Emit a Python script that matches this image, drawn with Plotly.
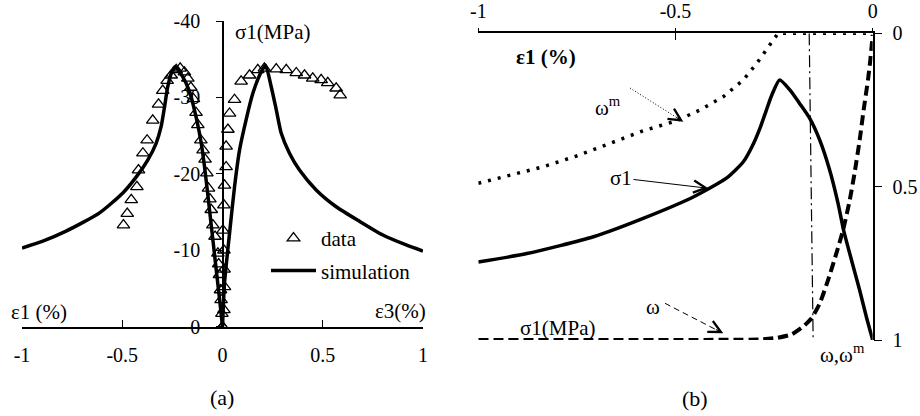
import plotly.graph_objects as go

W, H = 920, 416
FONT = "Liberation Serif, Times New Roman, Times, serif"

# ---------------- Panel (a) data ----------------
# simulation: sigma1 vs eps1 (left branch) and sigma1 vs eps3 (right branch)
sim_e1 = [-1.0, -0.896, -0.780, -0.613, -0.497, -0.430, -0.373, -0.331, -0.306,
          -0.289, -0.273, -0.252, -0.236, -0.198, -0.165, -0.128, -0.106, -0.090,
          -0.072, -0.055, -0.040, -0.025, -0.010, 0.0]
sim_s1 = [-10.3, -11.2, -12.5, -14.9, -17.5, -19.6, -21.8, -24.0, -26.2,
          -28.8, -31.4, -33.4, -34.0, -32.7, -30.8, -27.0, -24.0, -21.0,
          -17.0, -13.0, -9.5, -6.0, -2.5, 0.0]
sim_e3 = [0.0, 0.010, 0.035, 0.060, 0.085, 0.118, 0.151, 0.185, 0.214, 0.243,
          0.268, 0.293, 0.334, 0.384, 0.467, 0.567, 0.683, 0.800, 0.916, 1.0]
sim_s3 = [0.0, -5.7, -12.2, -18.3, -23.1, -27.1, -30.5, -32.9, -34.2, -31.4,
          -28.4, -25.3, -22.7, -20.5, -17.9, -15.7, -13.8, -12.0, -10.7, -9.9]

# experimental data
data_e1 = [-0.494, -0.475, -0.455, -0.427, -0.419, -0.397, -0.376, -0.348, -0.319,
           -0.298, -0.276, -0.256, -0.231, -0.211, -0.190, -0.173, -0.158, -0.145,
           -0.132, -0.123, -0.108, -0.097, -0.087, -0.078, -0.070, -0.063, -0.056,
           -0.048, -0.037, -0.023, -0.019, -0.015, -0.010, -0.007, -0.003, 0.0]
data_s1 = [-13.3, -14.8, -16.6, -18.3, -20.5, -22.7, -24.4, -27.0, -29.1,
           -30.9, -32.2, -32.9, -33.6, -33.8, -33.3, -32.5, -31.3, -29.8,
           -28.0, -26.4, -24.4, -23.1, -21.9, -20.1, -18.1, -16.7, -15.3,
           -13.3, -11.8, -9.6, -8.2, -6.8, -4.8, -3.5, -1.7, 0.0]
data_e3 = [0.0, 0.007, 0.010, 0.008, 0.007, 0.002, 0.007, 0.010, 0.018, 0.018,
           0.027, 0.035, 0.060, 0.093, 0.135, 0.176, 0.209, 0.268, 0.318, 0.368,
           0.409, 0.450, 0.492, 0.525, 0.567, 0.587]
data_s3 = [0.0, -2.2, -5.2, -7.5, -10.0, -12.6, -15.9, -18.5, -20.9, -23.6,
           -25.8, -27.9, -29.7, -32.1, -32.9, -33.6, -33.8, -33.7, -33.6, -33.2,
           -32.9, -32.5, -32.3, -31.9, -31.2, -30.3]

a_xticks = [-1, -0.5, 0, 0.5, 1]
a_xlabels = ["-1", "-0.5", "0", "0.5", "1"]
a_yticks = [0, -10, -20, -30, -40]
a_ylabels = ["0", "-10", "-20", "-30", "-40"]

# ---------------- Panel (b) data ----------------
b_e1 = [-1.0, -0.877, -0.708, -0.582, -0.455, -0.370, -0.328, -0.303, -0.285,
        -0.270, -0.256, -0.236, -0.210, -0.185, -0.160, -0.134, -0.109, -0.088,
        -0.074, -0.054, -0.033, -0.016, 0.0]
b_s1 = [-10.2, -11.3, -13.5, -15.9, -18.7, -21.2, -23.3, -25.6, -27.8,
        -30.0, -32.0, -34.0, -32.7, -30.9, -29.0, -26.1, -22.2, -17.9,
        -14.4, -10.5, -6.5, -3.0, 0.0]
wm_e1 = [-1.0, -0.920, -0.835, -0.751, -0.666, -0.582, -0.497, -0.438, -0.379,
         -0.328, -0.294, -0.269, -0.248, -0.240, -0.120, 0.0]
wm = [0.489, 0.464, 0.435, 0.400, 0.359, 0.318, 0.285, 0.250, 0.207,
      0.152, 0.098, 0.054, 0.013, 0.0, 0.0, 0.0]
w_e1 = [-1.0, -0.286, -0.243, -0.206, -0.177, -0.155, -0.134, -0.113, -0.092,
        -0.075, -0.058, -0.046, -0.033, -0.023, -0.012, -0.006, -0.003, 0.0]
w = [1.0, 0.998, 0.993, 0.982, 0.957, 0.929, 0.880, 0.804, 0.717,
     0.641, 0.543, 0.456, 0.348, 0.250, 0.152, 0.087, 0.045, 0.005]
vline_e1 = [-0.161, -0.151]
vline_w = [0.0, 1.0]

b_xticks = [-1, -0.5, 0]
b_xlabels = ["-1", "-0.5", "0"]
b_yticks = [0, 0.5, 1]
b_ylabels = ["0", "0.5", "1"]


def X(px):
    return px / W


def Y(py):
    return 1 - py / H


fig = go.Figure()

tri = dict(symbol="triangle-up-open", size=11, color="black",
           line=dict(width=1.3, color="black"))
# panel (a)
fig.add_trace(go.Scatter(x=data_e1, y=data_s1, mode="markers", name="data",
                         marker=tri, xaxis="x", yaxis="y", legendgroup="d",
                         showlegend=True))
fig.add_trace(go.Scatter(x=data_e3, y=data_s3, mode="markers", name="data",
                         marker=tri, xaxis="x", yaxis="y", showlegend=False))
fig.add_trace(go.Scatter(x=sim_e1, y=sim_s1, mode="lines", name="simulation",
                         line=dict(color="black", width=3.5, shape="spline", smoothing=0.6),
                         xaxis="x", yaxis="y", legendgroup="s", showlegend=True))
fig.add_trace(go.Scatter(x=sim_e3, y=sim_s3, mode="lines", name="simulation",
                         line=dict(color="black", width=3.5, shape="spline", smoothing=0.6),
                         xaxis="x", yaxis="y", showlegend=False))

# panel (b)
fig.add_trace(go.Scatter(x=vline_e1, y=vline_w, mode="lines",
                         line=dict(color="black", width=1.2, dash="12px,4px,2px,4px"),
                         xaxis="x2", yaxis="y2", showlegend=False))
fig.add_trace(go.Scatter(x=wm_e1, y=wm, mode="lines",
                         line=dict(color="black", width=3.5, dash="3px,7px"),
                         xaxis="x2", yaxis="y2", showlegend=False))
fig.add_trace(go.Scatter(x=w_e1, y=w, mode="lines",
                         line=dict(color="black", width=4, dash="10px,5px",
                                   shape="spline", smoothing=0.5),
                         xaxis="x2", yaxis="y2", showlegend=False))
fig.add_trace(go.Scatter(x=b_e1, y=b_s1, mode="lines",
                         line=dict(color="black", width=3.5, shape="spline", smoothing=0.6),
                         xaxis="x2", yaxis="y3", showlegend=False))
# carrier trace so the overlaid tick axis (x3) is rendered
fig.add_trace(go.Scatter(x=[None], y=[None], xaxis="x3", yaxis="y2", showlegend=False,
                         hoverinfo="skip"))

tickfont = dict(family=FONT, size=20, color="black")
axis_common = dict(showgrid=False, zeroline=False, showline=True, linecolor="black",
                   linewidth=1.5, tickcolor="black", tickwidth=1.3, tickfont=tickfont)

fig.update_layout(
    width=W, height=H, autosize=False,
    margin=dict(l=0, r=0, t=0, b=0, pad=0),
    paper_bgcolor="white", plot_bgcolor="rgba(0,0,0,0)",
    font=dict(family=FONT, size=20, color="black"),
    xaxis=dict(domain=[X(22), X(423)], range=[-1, 1], anchor="y",
               ticks="inside", ticklen=7, tickvals=a_xticks, ticktext=a_xlabels,
               ticklabelstandoff=10, automargin=False, **axis_common),
    yaxis=dict(domain=[Y(326.7), Y(21)], range=[0, -40], anchor="free",
               position=X(223), ticks="outside", ticklen=6,
               tickvals=a_yticks, ticktext=a_ylabels, ticklabelstandoff=12,
               automargin=False, **axis_common),
    xaxis2=dict(domain=[X(478.3), X(872.7)], range=[-1, 0], anchor="y2", side="top",
                ticks="outside", ticklen=4, tickvals=b_xticks, ticktext=b_xlabels,
                ticklabelstandoff=2, automargin=False, **axis_common),
    xaxis3=dict(domain=[X(478.3), X(872.7)], range=[-1, 0], anchor="y2", side="top",
                overlaying="x2", ticks="inside", ticklen=7, tickvals=b_xticks,
                showticklabels=False, showgrid=False, zeroline=False, showline=False,
                tickcolor="black", tickwidth=1.3, automargin=False),
    yaxis2=dict(domain=[Y(340), Y(33.3)], range=[1, 0], anchor="x2", side="right",
                ticks="outside", ticklen=8, tickvals=b_yticks, ticktext=b_ylabels,
                ticklabelstandoff=6, automargin=False, **axis_common),
    yaxis3=dict(domain=[Y(340), Y(33.3)], range=[0, -40.1], anchor="x2",
                overlaying="y2", visible=False),
    legend=dict(x=X(266), y=Y(218), xanchor="left", yanchor="top",
                bgcolor="rgba(0,0,0,0)", font=dict(family=FONT, size=21, color="black"),
                itemwidth=45, tracegroupgap=2),
    showlegend=True,
)

txt = dict(family=FONT, size=21, color="black")
big = dict(family=FONT, size=22, color="black")
ann = [
    # panel (a) labels
    dict(x=X(272), y=Y(32), text="σ1(MPa)", font=txt),
    dict(x=X(39), y=Y(312), text="ε1 (%)", font=txt),
    dict(x=X(400), y=Y(311), text="ε3(%)", font=txt),
    dict(x=X(222), y=Y(397), text="(a)", font=big),
    # panel (b) labels
    dict(x=X(546), y=Y(57), text="<b>ε1 (%)</b>", font=txt),
    dict(x=X(608), y=Y(106), text="ω<sup>m</sup>", font=txt),
    dict(x=X(653), y=Y(307), text="ω", font=txt),
    dict(x=X(557), y=Y(328), text="σ1(MPa)", font=txt),
    dict(x=X(842), y=Y(353), text="ω,ω<sup>m</sup>", font=txt),
    dict(x=X(695), y=Y(398), text="(b)", font=big),
]
annotations = []
for a in ann:
    a.update(xref="paper", yref="paper", showarrow=False,
             xanchor="center", yanchor="middle")
    annotations.append(a)

# sigma1 label with its arrow
annotations.append(dict(x=X(708.3), y=Y(188.3), xref="paper", yref="paper",
                        text="σ1", font=txt, showarrow=True, arrowhead=5,
                        arrowsize=2.4, arrowwidth=1, arrowcolor="black",
                        ax=621 - 708.3, ay=178 - 188.3, standoff=0))


def arrow_head(x0, y0, x1, y1):
    # short solid arrow (only the head is visible) pointing to (x1, y1)
    dx, dy = x0 - x1, y0 - y1
    L = (dx * dx + dy * dy) ** 0.5
    return dict(x=X(x1), y=Y(y1), xref="paper", yref="paper", text="",
                showarrow=True, arrowhead=5, arrowsize=2.4, arrowwidth=1,
                arrowcolor="black", ax=dx / L * 10, ay=dy / L * 10, standoff=0)


annotations.append(arrow_head(630, 88, 683.3, 121.7))
annotations.append(arrow_head(665, 303.3, 723.3, 333.3))

shapes = [
    dict(type="line", xref="paper", yref="paper", x0=X(630), y0=Y(88),
         x1=X(680), y1=Y(119.7), line=dict(color="black", width=1, dash="1px,2px")),
    dict(type="line", xref="paper", yref="paper", x0=X(665), y0=Y(303.3),
         x1=X(720), y1=Y(331.7), line=dict(color="black", width=1, dash="6px,4px")),
]
fig.update_layout(annotations=annotations, shapes=shapes)

fig.write_html("out.html")
